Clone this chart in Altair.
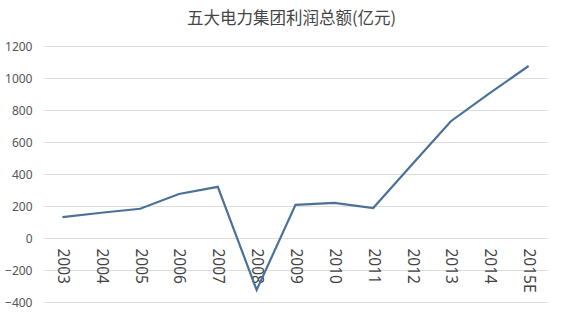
import altair as alt
import pandas as pd

years = ["2003", "2004", "2005", "2006", "2007", "2008", "2009", "2010", "2011", "2012", "2013", "2014", "2015E"]
profits = [131, 158, 183, 275, 320, -325, 207, 220, 187, 460, 730, 905, 1075]
y_ticks = [-400, -200, 0, 200, 400, 600, 800, 1000, 1200]

df = pd.DataFrame({"year": years, "profit": profits})

line = alt.Chart(df).mark_line(color="#4c7199", strokeWidth=2.2).encode(
    x=alt.X("year:N", sort=years, title=None,
            scale=alt.Scale(paddingInner=0, paddingOuter=0),
            axis=alt.Axis(labelAngle=90, labelAlign="left", labelBaseline="middle",
                          labelFontSize=15.5, labelColor="#444", labelPadding=10,
                          domain=False, ticks=False, grid=False, offset=-64,
                          labelFont="Noto Sans")),
    y=alt.Y("profit:Q", title=None,
            scale=alt.Scale(domain=[-400, 1200], nice=False, zero=False),
            axis=alt.Axis(values=y_ticks, format="d", domain=False, ticks=False,
                          gridColor="#dddddd", gridWidth=1, labelFontSize=12,
                          labelColor="#555", labelPadding=11, labelFont="Noto Sans")),
)

chart = line.properties(
    width=505, height=256,
    background="white",
    title=alt.TitleParams("五大电力集团利润总额(亿元)", fontSize=16.5, fontWeight="normal",
                          color="#444", font="Noto Sans CJK SC", anchor="middle",
                          offset=13, dx=-4),
    padding={"left": 43, "top": 46, "right": 32, "bottom": 12},
    autosize=alt.AutoSizeParams(type="none"),
).configure_view(stroke=None)

chart.save("out.html", embed_options={"renderer": "svg", "actions": False})
